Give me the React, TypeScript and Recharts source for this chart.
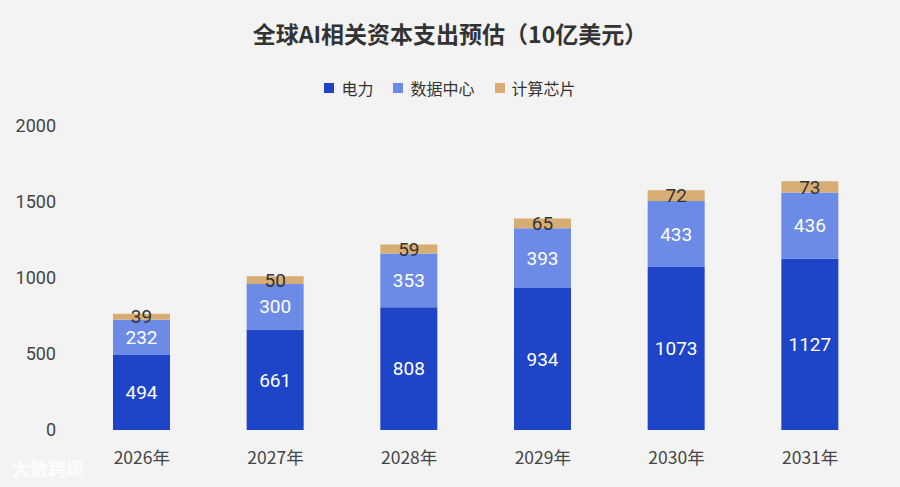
import React from 'react';
import { BarChart, Bar, XAxis, YAxis, LabelList } from 'recharts';

const years = ['2026年', '2027年', '2028年', '2029年', '2030年', '2031年'];
const power = [494, 661, 808, 934, 1073, 1127];
const dataCenter = [232, 300, 353, 393, 433, 436];
const chips = [39, 50, 59, 65, 72, 73];
const yTicks = [0, 500, 1000, 1500, 2000];

const data = years.map((y, i) => ({ year: y, power: power[i], dc: dataCenter[i], chips: chips[i] }));

const FONT = '"Noto Sans CJK SC", "Noto Sans", sans-serif';
const NUMFONT = 'Roboto, "Noto Sans", sans-serif';

const legendItems = [
  { name: '电力', color: '#1e44c8' },
  { name: '数据中心', color: '#6c8be6' },
  { name: '计算芯片', color: '#d8ad74' },
];

export default function App() {
  return (
    <div style={{ position: 'absolute', left: 0, top: 0, width: 900, height: 487, background: '#f3f3f4', fontFamily: FONT }}>
      <div style={{ position: 'absolute', top: 16, width: 900, textAlign: 'center', fontSize: 23, fontWeight: 700, color: '#333', fontFamily: FONT }}>
        全球AI相关资本支出预估（10亿美元）
      </div>
      <div style={{ position: 'absolute', top: 76, width: 900, display: 'flex', justifyContent: 'center', gap: 20, fontFamily: FONT, fontSize: 16, color: '#333' }}>
        {legendItems.map((it) => (
          <div key={it.name} style={{ display: 'flex', alignItems: 'center' }}>
            <span style={{ width: 10, height: 10, background: it.color, display: 'inline-block', marginRight: 7 }} />
            <span>{it.name}</span>
          </div>
        ))}
      </div>
      <BarChart width={900} height={487} data={data} margin={{ top: 126, right: 23, bottom: 27, left: 0 }} barSize={57}>
        <XAxis dataKey="year" height={30} axisLine={false} tickLine={false} tickSize={0} tickMargin={22}
          tick={{ fill: '#444', fontSize: 17.5, fontFamily: FONT }} />
        <YAxis domain={[0, 2000]} ticks={yTicks} width={75} axisLine={false} tickLine={false} tickSize={0} tickMargin={19}
          tick={{ fill: '#444', fontSize: 18, fontFamily: NUMFONT }} />
        <Bar dataKey="power" stackId="a" fill="#1e44c8" isAnimationActive={false}>
          <LabelList dataKey="power" position="center" fill="#fff" fontSize={19} fontFamily={NUMFONT} />
        </Bar>
        <Bar dataKey="dc" stackId="a" fill="#6c8be6" isAnimationActive={false}>
          <LabelList dataKey="dc" position="center" fill="#fff" fontSize={19} fontFamily={NUMFONT} />
        </Bar>
        <Bar dataKey="chips" stackId="a" fill="#d8ad74" isAnimationActive={false}>
          <LabelList dataKey="chips" position="center" fill="#333" fontSize={19} fontFamily={NUMFONT} />
        </Bar>
      </BarChart>
      <div style={{ position: 'absolute', left: 12, top: 455, fontSize: 18, fontWeight: 700, color: 'rgba(255,255,255,0.85)', fontFamily: FONT }}>
        大数跨境
      </div>
    </div>
  );
}
